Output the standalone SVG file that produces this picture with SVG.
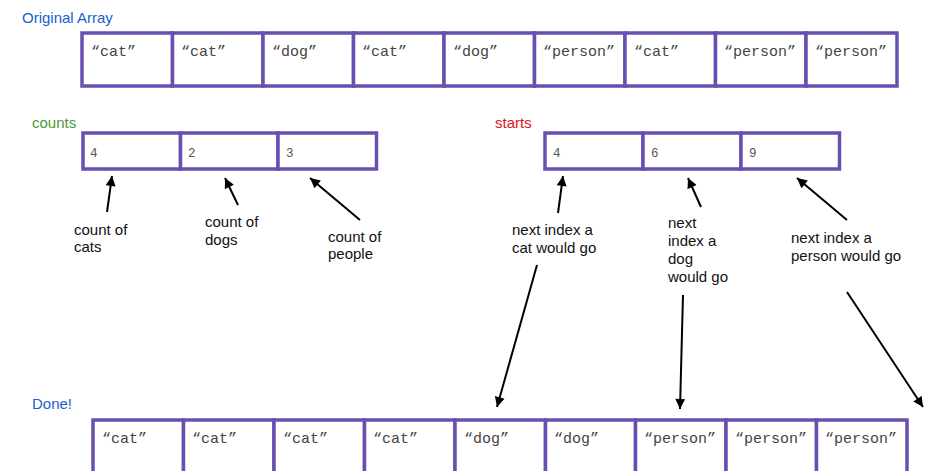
<svg xmlns="http://www.w3.org/2000/svg" width="928" height="471" viewBox="0 0 928 471">
<style>
.cell{fill:#fff;stroke:#6a4fb2;stroke-width:3.5}
.val{font-family:"Liberation Mono","Courier New",monospace;font-size:15px;fill:#444}
.num{font-family:"Liberation Mono","Courier New",monospace;font-size:12.5px;fill:#555}
.lbl{font-family:"Liberation Sans",Arial,sans-serif;font-size:15px;fill:#111}
.title{font-family:"Liberation Sans",Arial,sans-serif;font-size:15px}
.arr{stroke:#000;stroke-width:2;fill:none;marker-end:url(#ah)}
</style>
<defs>
<marker id="ah" viewBox="0 0 10 10" refX="10" refY="5" markerWidth="11" markerHeight="10" markerUnits="userSpaceOnUse" orient="auto">
<path d="M0,0 L10,5 L0,10 z" fill="#000"/>
</marker>
</defs>
<rect width="928" height="471" fill="#fff"/>

<g id="original-title"><text class="title" x="22" y="23" fill="#1a5fd0">Original Array</text></g>
<g id="original-array">
<rect class="cell" x="82" y="33" width="90.5" height="53"/><text class="val" x="91" y="56">“cat”</text>
<rect class="cell" x="172.5" y="33" width="90.5" height="53"/><text class="val" x="181" y="56">“cat”</text>
<rect class="cell" x="263" y="33" width="90.5" height="53"/><text class="val" x="272" y="56">“dog”</text>
<rect class="cell" x="353.5" y="33" width="90.5" height="53"/><text class="val" x="362" y="56">“cat”</text>
<rect class="cell" x="444" y="33" width="90.5" height="53"/><text class="val" x="453" y="56">“dog”</text>
<rect class="cell" x="534.5" y="33" width="90.5" height="53"/><text class="val" x="543" y="56">“person”</text>
<rect class="cell" x="625" y="33" width="90.5" height="53"/><text class="val" x="634" y="56">“cat”</text>
<rect class="cell" x="715.5" y="33" width="90.5" height="53"/><text class="val" x="724" y="56">“person”</text>
<rect class="cell" x="806" y="33" width="91" height="53"/><text class="val" x="815" y="56">“person”</text>
</g>

<g id="counts-title"><text class="title" x="32" y="128" fill="#4a9a36">counts</text></g>
<g id="counts-array">
<rect class="cell" x="83" y="133" width="97.5" height="36"/><text class="num" x="90" y="157">4</text>
<rect class="cell" x="180.5" y="133" width="97.5" height="36"/><text class="num" x="188" y="157">2</text>
<rect class="cell" x="278" y="133" width="98.5" height="36"/><text class="num" x="286" y="157">3</text>
</g>

<g id="starts-title"><text class="title" x="495" y="128" fill="#e0121c">starts</text></g>
<g id="starts-array">
<rect class="cell" x="545" y="133" width="98" height="36"/><text class="num" x="553" y="157">4</text>
<rect class="cell" x="643" y="133" width="98" height="36"/><text class="num" x="651" y="157">6</text>
<rect class="cell" x="741" y="133" width="98.5" height="36"/><text class="num" x="749" y="157">9</text>
</g>

<g id="label-count-cats"><text class="lbl" x="74" y="235">count of</text><text class="lbl" x="74" y="252">cats</text></g>
<g id="label-count-dogs"><text class="lbl" x="205" y="227">count of</text><text class="lbl" x="205" y="245">dogs</text></g>
<g id="label-count-people"><text class="lbl" x="328" y="242">count of</text><text class="lbl" x="328" y="259">people</text></g>
<g id="label-next-cat"><text class="lbl" x="512" y="235">next index a</text><text class="lbl" x="512" y="253">cat would go</text></g>
<g id="label-next-dog"><text class="lbl" x="668" y="228">next</text><text class="lbl" x="668" y="246">index a</text><text class="lbl" x="668" y="264">dog</text><text class="lbl" x="668" y="282">would go</text></g>
<g id="label-next-person"><text class="lbl" x="791" y="243">next index a</text><text class="lbl" x="791" y="261">person would go</text></g>

<g id="done-title"><text class="title" x="32" y="409" fill="#1a5fd0">Done!</text></g>
<g id="done-array">
<rect class="cell" x="93" y="420" width="90.5" height="60"/><text class="val" x="102" y="443">“cat”</text>
<rect class="cell" x="183.5" y="420" width="90.5" height="60"/><text class="val" x="192" y="443">“cat”</text>
<rect class="cell" x="274" y="420" width="90.5" height="60"/><text class="val" x="283" y="443">“cat”</text>
<rect class="cell" x="364.5" y="420" width="90.5" height="60"/><text class="val" x="373" y="443">“cat”</text>
<rect class="cell" x="455" y="420" width="90.5" height="60"/><text class="val" x="464" y="443">“dog”</text>
<rect class="cell" x="545.5" y="420" width="90" height="60"/><text class="val" x="554" y="443">“dog”</text>
<rect class="cell" x="635.5" y="420" width="90.5" height="60"/><text class="val" x="644" y="443">“person”</text>
<rect class="cell" x="726" y="420" width="90.5" height="60"/><text class="val" x="735" y="443">“person”</text>
<rect class="cell" x="816.5" y="420" width="90.5" height="60"/><text class="val" x="825" y="443">“person”</text>
</g>

<g id="connectors">
<line class="arr" x1="107" y1="212" x2="112" y2="176"/>
<line class="arr" x1="238" y1="205" x2="225" y2="178"/>
<line class="arr" x1="360" y1="220" x2="310" y2="178"/>
<line class="arr" x1="558" y1="213" x2="563" y2="176"/>
<line class="arr" x1="701" y1="207" x2="688" y2="178"/>
<line class="arr" x1="847" y1="220" x2="797" y2="178"/>
<line class="arr" x1="537" y1="265" x2="497" y2="407"/>
<line class="arr" x1="683" y1="295" x2="680" y2="409"/>
<line class="arr" x1="847" y1="292" x2="923" y2="407"/>
</g>
</svg>
